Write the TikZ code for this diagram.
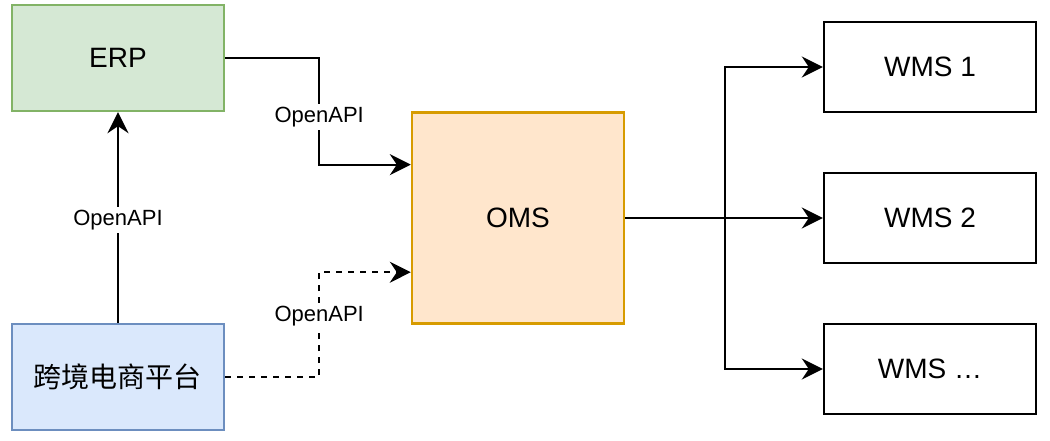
\documentclass[tikz,border=0pt]{standalone}
\usepackage{fontspec}
\setmainfont{Liberation Sans}
\newfontfamily\cjk{Noto Sans CJK SC}
\usetikzlibrary{arrows.meta,calc}
\definecolor{gfill}{HTML}{D5E8D4}
\definecolor{gline}{HTML}{82B366}
\definecolor{bfill}{HTML}{DAE8FC}
\definecolor{bline}{HTML}{6C8EBF}
\definecolor{ofill}{HTML}{FFE6CC}
\definecolor{oline}{HTML}{D79B00}
\tikzset{
  box/.style={draw, line width=2.4pt, minimum width=212pt, minimum height=106pt, inner sep=0pt, font=\fontsize{28}{32}\selectfont},
  conn/.style={line width=2.2pt, -{Stealth[length=21pt,width=21pt,inset=7pt]}},
  lbl/.style={fill=white, inner sep=3pt, font=\fontsize{22}{26}\selectfont},
}
\begin{document}
\begin{tikzpicture}[x=1pt,y=-1pt]
\useasboundingbox (0,0) rectangle (1050,441);
\node[box, fill=gfill, draw=gline] (erp) at (118,58) {ERP};
\node[box, fill=bfill, draw=bline] (plat) at (118,377) {\cjk 跨境电商平台};
\node[box, fill=ofill, draw=oline, minimum height=211pt] (oms) at (518,218) {OMS};
\node[box, minimum height=90pt] (w1) at (930,67) {WMS 1};
\node[box, minimum height=90pt] (w2) at (930,218) {WMS 2};
\node[box, minimum height=90pt] (w3) at (930,369) {WMS \ldots};
% ERP -> OMS
\coordinate (c1) at ($(erp.east)+(94,0)$);
\coordinate (p1) at ($(oms.north west)!0.25!(oms.south west)$);
\draw[conn] (erp.east) -- (c1) -- node[lbl, pos=0.55]{OpenAPI} (c1 |- p1) -- (p1);
% platform -> OMS dashed
\coordinate (c2) at ($(plat.east)+(94,0)$);
\coordinate (p2) at ($(oms.north west)!0.754!(oms.south west)$);
\draw[conn, dash pattern=on 6pt off 6pt] (plat.east) -- (c2) -- node[lbl, pos=0.58]{OpenAPI} (c2 |- p2) -- (p2);
% platform -> ERP
\draw[conn] (plat.north) -- node[lbl, pos=0.49]{OpenAPI} (erp.south);
% OMS -> WMS
\coordinate (br) at ($(oms.east)+(100,0)$);
\draw[conn] (oms.east) -- (br) |- (w1.west);
\draw[conn] (oms.east) -- (w2.west);
\draw[conn] (br) |- (w3.west);
\end{tikzpicture}
\end{document}
